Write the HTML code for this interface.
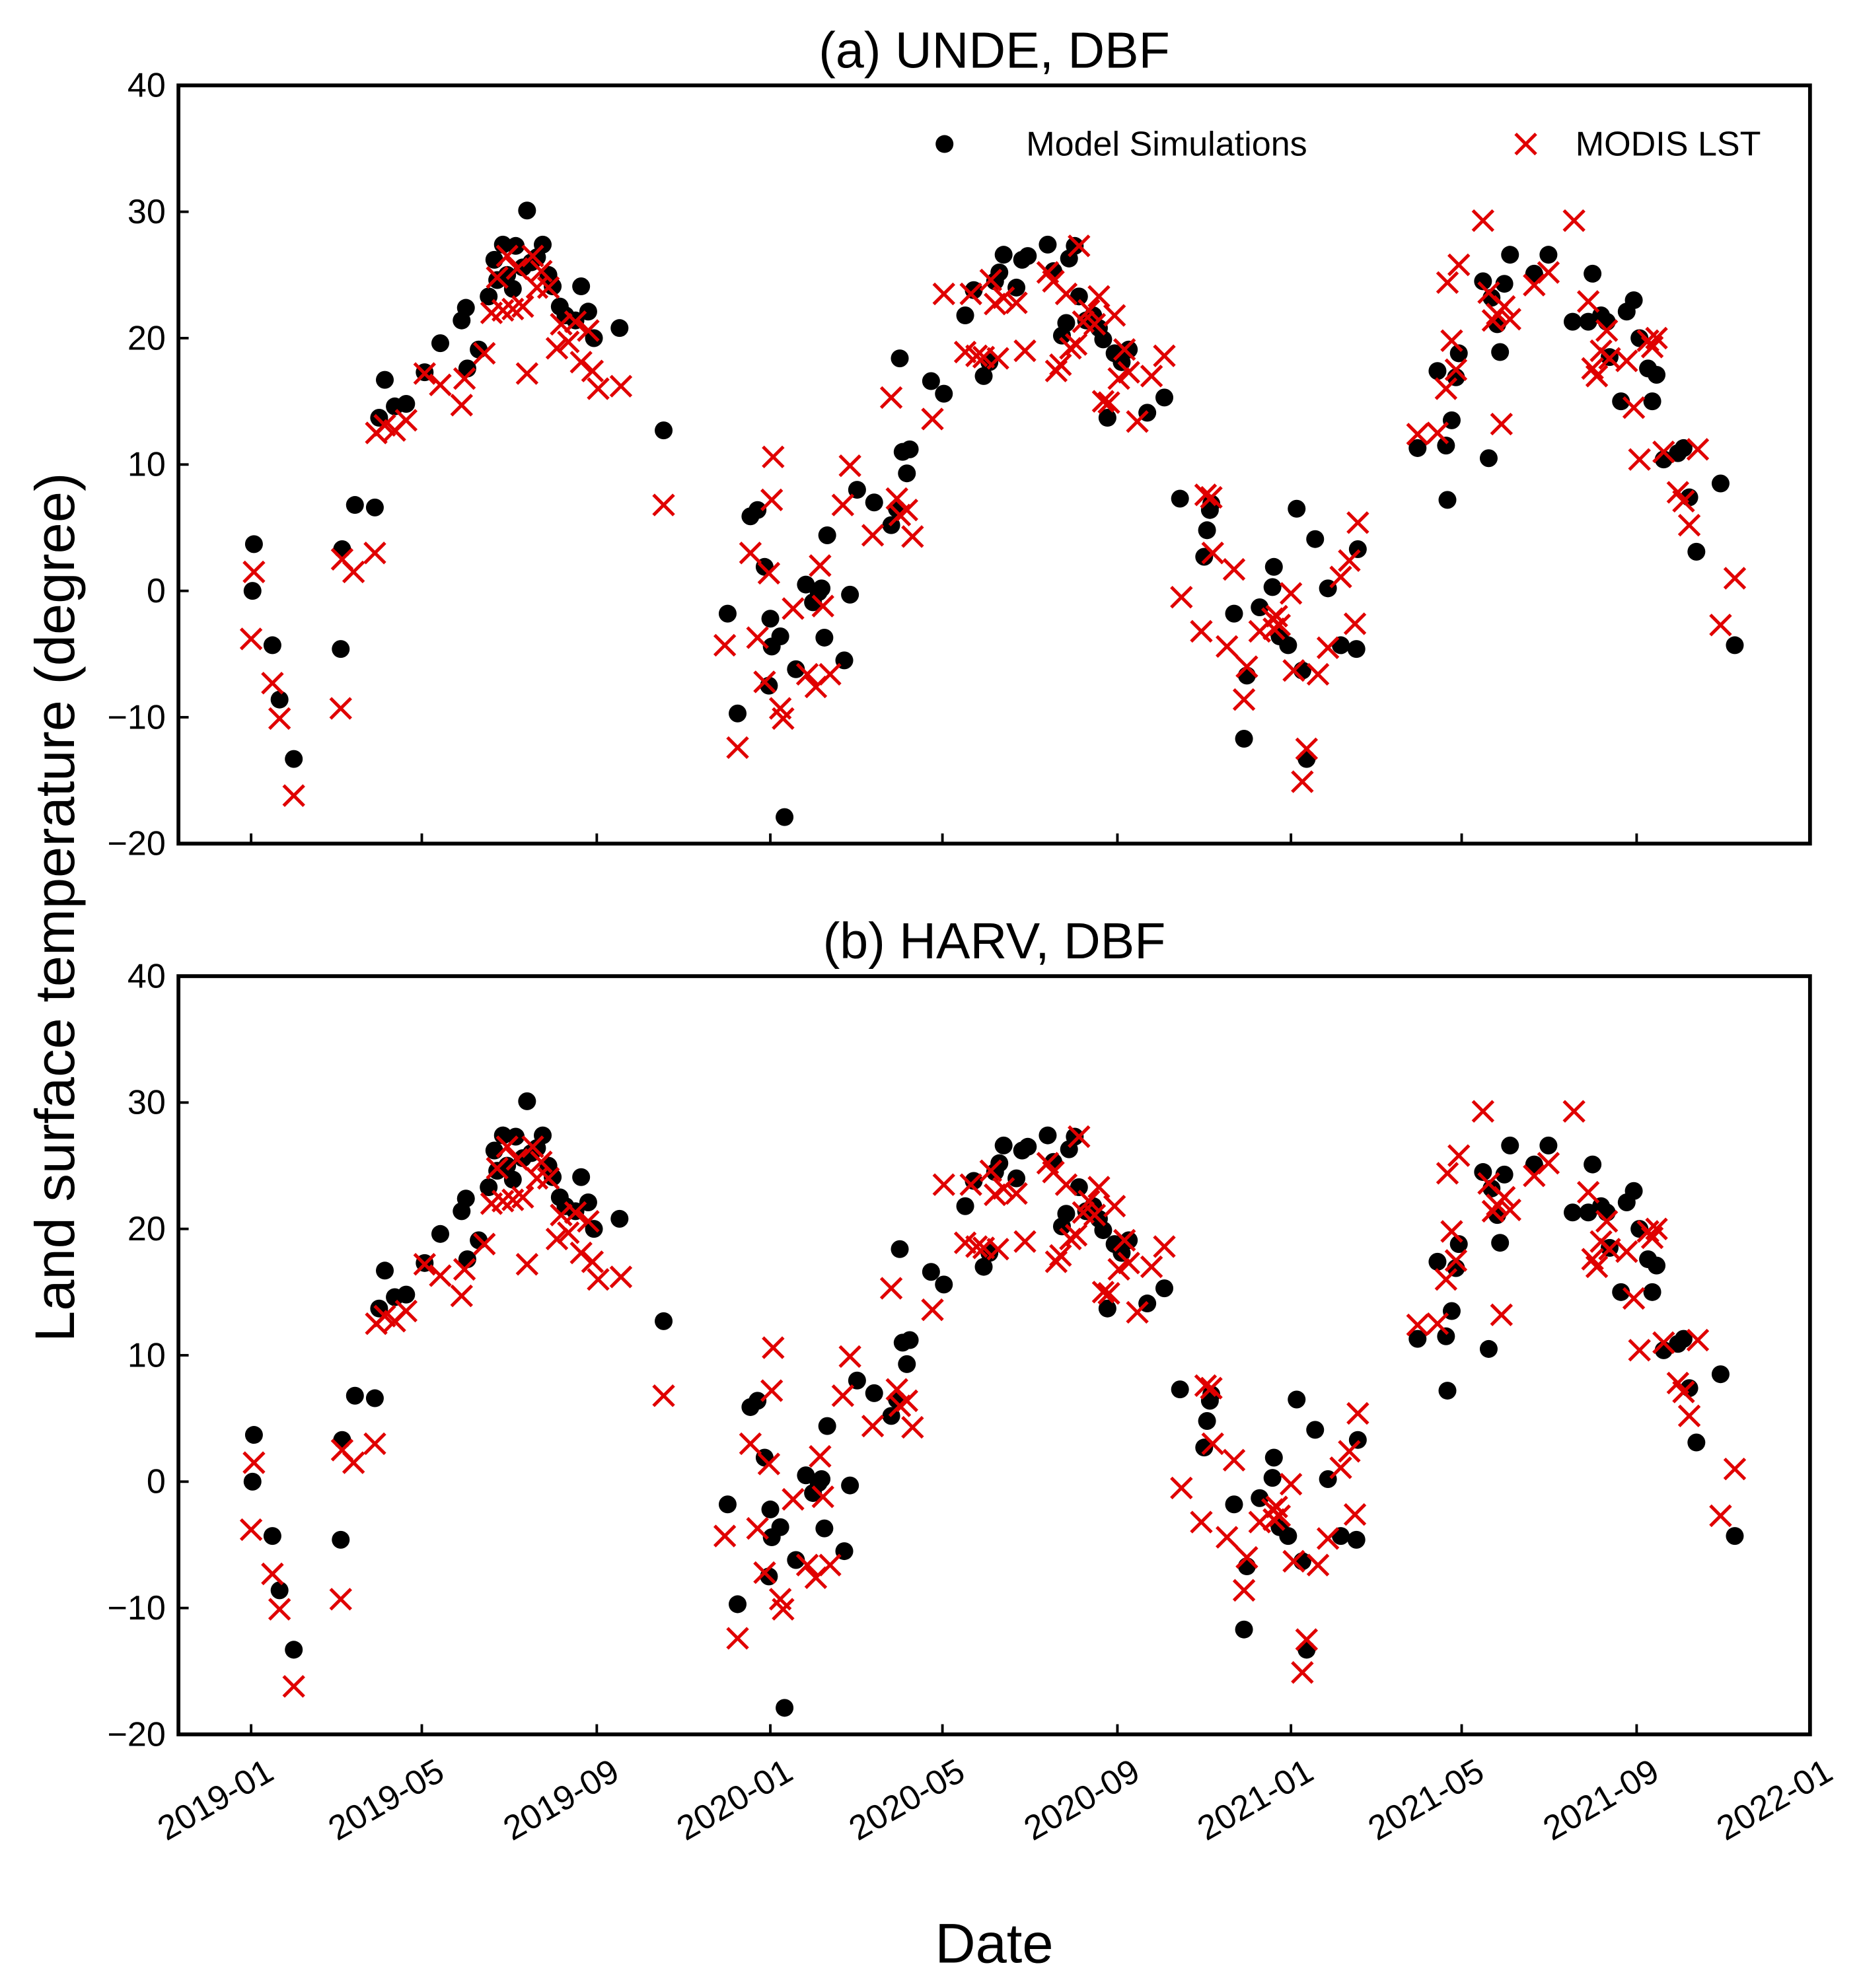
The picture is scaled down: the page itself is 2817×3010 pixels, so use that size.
<!DOCTYPE html>
<html><head><meta charset="utf-8"><title>LST chart</title>
<style>html,body{margin:0;padding:0;background:#fff;}svg{display:block;font-family:"Liberation Sans","DejaVu Sans",sans-serif;}</style>
</head><body>
<svg id="chart" width="2817" height="3010" viewBox="0 0 1460 1560" xmlns="http://www.w3.org/2000/svg">
<rect width="1460" height="1560" fill="#fff"/>
<g id="root"></g>
</svg>
<script>
// Days since 2019-01-01 and values (degree)
const modelDays = [1,2,15,20,30,63,64,73,87,90,94,101,109,122,133,148,151,152,160,167,171,173,177,180,184,186,191,194,197,201,205,209,212,217,221,228,232,237,241,259,290,
335,342,351,356,361,365,366,364,372,375,383,390,395,399,401,403,405,417,421,426,438,450,454,456,458,461,463,478,487,502,508,515,519,523,526,529,538,542,546,560,564,570,573,575,579,582,587,592,596,599,602,607,612,617,630,642,653,670,672,674,675,691,698,700,709,718,719,723,729,735,739,742,748,757,766,777,778,
820,834,840,841,844,847,849,866,870,872,876,878,881,885,902,912,929,940,943,949,953,955,963,967,972,976,982,985,988,993,1003,1007,1011,1016,1033,1043];
const modelValues = [0,3.7,-4.3,-8.6,-13.3,-4.6,3.3,6.8,6.6,13.7,16.7,14.6,14.8,17.3,19.6,21.4,22.4,17.6,19.1,23.3,26.2,24.6,27.4,25.0,23.9,27.3,25.6,30.1,26.0,26.4,27.4,25.0,24.1,22.5,21.8,21.4,24.1,22.1,20.0,20.8,12.7,
-1.8,-9.7,5.9,6.4,1.9,-2.2,-4.4,-7.5,-3.6,-17.9,-6.2,0.5,-0.9,-0.1,0.2,-3.7,4.4,-5.5,-0.3,8.0,7.0,5.2,6.5,18.4,11.0,9.3,11.2,16.6,15.6,21.8,23.8,17.0,18.1,24.5,25.2,26.6,24.0,26.2,26.5,27.4,25.3,20.2,21.2,26.3,27.3,23.3,21.4,21.8,20.8,19.9,13.7,18.8,18.1,19.1,14.1,15.3,7.3,2.7,4.8,6.4,6.9,-1.8,-11.7,-6.7,-1.3,0.3,1.9,-3.6,-4.3,6.5,-6.3,-13.3,4.1,0.2,-4.3,-4.6,3.3,
11.3,17.4,11.5,7.2,13.5,16.9,18.8,24.5,10.5,23.2,21.1,18.9,24.3,26.6,25.1,26.6,21.3,21.3,25.1,21.8,21.3,18.5,15.0,22.1,23.0,20.0,17.6,15.0,17.1,10.4,10.9,11.3,7.4,3.1,8.5,-4.3];
const modisDays = [0,2,15,20,30,63,64,72,87,88,94,101,109,122,133,148,150,164,169,173,177,180,184,187,191,194,198,201,204,209,215,218,223,228,232,237,240,244,260,290,
333,342,351,356,361,364,366,367,372,374,381,391,397,400,402,407,416,421,437,450,454,456,461,465,479,487,502,506,510,515,520,523,525,529,538,544,560,564,566,569,573,576,580,582,585,589,593,596,599,603,607,610,614,617,623,633,642,654,668,671,675,676,686,691,698,700,709,718,719,721,723,731,733,739,742,750,757,766,772,776,778,
820,834,840,841,844,847,849,866,870,873,876,879,881,885,902,912,930,940,943,946,949,953,955,967,972,976,982,985,988,993,1003,1007,1011,1017,1033,1043];
const modisValues = [-3.8,1.5,-7.3,-10.1,-16.2,-9.3,2.5,1.5,3.0,12.5,13.1,12.7,13.5,17.2,16.3,14.7,16.8,18.8,22.0,24.8,22.2,26.5,22.3,25.5,22.5,17.2,26.5,24.0,25.3,24.0,19.2,21.1,19.7,21.3,18.1,20.6,17.4,16.0,16.2,6.8,
-4.3,-12.4,3.0,-3.7,-7.2,1.4,7.2,10.6,-9.3,-10.1,-1.4,-6.6,-7.6,2.0,-1.2,-6.6,6.8,9.9,4.4,15.3,7.3,6.0,6.4,4.3,13.6,23.5,18.9,23.5,18.6,18.5,24.6,22.7,18.4,23.2,22.8,19.0,25.2,24.5,17.4,17.9,23.5,19.2,19.5,27.3,21.3,22.2,21.1,23.3,15.0,14.9,21.8,16.8,19.1,17.3,13.4,17.0,18.6,-0.5,-3.2,7.6,7.4,3.0,-4.4,1.7,-8.6,-6.0,-3.2,-2.2,-3.0,-2.0,-2.7,-0.2,-6.3,-15.1,-12.5,-6.6,-4.5,1.1,2.4,-2.6,5.4,
12.4,12.5,16.0,24.4,19.8,17.5,25.8,29.3,23.6,21.4,21.9,13.2,22.5,21.5,24.2,25.2,29.3,22.9,17.6,17.0,19.0,20.6,18.4,18.2,14.5,10.4,19.8,19.3,20.0,11.0,7.8,7.1,5.2,11.2,-2.7,1.0];
const yTicks = [-20,-10,0,10,20,30,40];
const xTickLabels = ["2019-01","2019-05","2019-09","2020-01","2020-05","2020-09","2021-01","2021-05","2021-09","2022-01"];
const panelTitles = ["(a) UNDE, DBF","(b) HARV, DBF"];

const NS="http://www.w3.org/2000/svg";
const root=document.getElementById('root');
function mk(tag,attrs,parent){const e=document.createElementNS(NS,tag);for(const k in attrs)e.setAttribute(k,attrs[k]);(parent||root).appendChild(e);return e;}
const X0=140,X1=1420;
const t0=Date.UTC(2019,0,1);
function xScale(d){return 197+d*1.116;}
function dayOf(lbl){const [y,m]=lbl.split('-').map(Number);return (Date.UTC(y,m-1,1)-t0)/86400000;}
const panels=[{top:67,bottom:662},{top:766,bottom:1361}];

panels.forEach((p,pi)=>{
  const yScale=v=>p.bottom-(v+20)/60*(p.bottom-p.top);
  const g=mk('g',{});
  
  
  const t=mk('text',{x:780,y:p.top-14,'text-anchor':'middle','font-size':40},g);
  t.textContent=panelTitles[pi];
  
  
  yTicks.forEach(v=>{
    const y=yScale(v);
    const l=mk('line',{x1:X0,x2:X0+8,y1:y,y2:y,stroke:'#000','stroke-width':2},g);
    
    
    const tl=mk('text',{x:X0-10,y:y+9,'text-anchor':'end','font-size':27},g);
    tl.textContent=v<0?'\u2212'+Math.abs(v):String(v);
    
    
  });
  xTickLabels.forEach(lb=>{
    const x=xScale(dayOf(lb));
    const l=mk('line',{x1:x,x2:x,y1:p.bottom,y2:p.bottom-8,stroke:'#000','stroke-width':2},g);
    
    
    if(pi===1){
      const tl=mk('text',{x:x+10,y:p.bottom+18,'text-anchor':'end','font-size':27,transform:`rotate(-30 ${x+10} ${p.bottom+18})`},g);
      tl.setAttribute('dy','0.7em');
      tl.textContent=lb;
      
      
    }
  });
  modelDays.forEach((d,i)=>{
    const c=mk('circle',{cx:xScale(d),cy:yScale(modelValues[i]),r:7,fill:'#000'},g);
    
    
  });
  modisDays.forEach((d,i)=>{
    const x=xScale(d),y=yScale(modisValues[i]),s=8;
    const m=mk('path',{d:`M${x-s} ${y-s}L${x+s} ${y+s}M${x-s} ${y+s}L${x+s} ${y-s}`,stroke:'#e00000','stroke-width':2.6,fill:'none'},g);
    
    
  });
  const fr=mk('rect',{x:X0,y:p.top,width:X1-X0,height:p.bottom-p.top,fill:'none',stroke:'#000','stroke-width':3},g);
  
  
  if(pi===0){
    const lg=mk('g',{},g);
    
    
    const ld=mk('circle',{cx:741,cy:113,r:7,fill:'#000'},lg);
    
    
    const lt=mk('text',{x:805,y:122,'font-size':27},lg);
    lt.textContent='Model Simulations';
    
    
    const lx=mk('path',{d:'M1189 105L1205 121M1189 121L1205 105',stroke:'#e00000','stroke-width':2.6},lg);
    
    
    const lt2=mk('text',{x:1236,y:122,'font-size':27},lg);
    lt2.textContent='MODIS LST';
    
    
  }
});
const yl=mk('text',{x:0,y:0,'text-anchor':'middle','font-size':44,transform:'translate(58 712) rotate(-90)'});
yl.textContent='Land surface temperature (degree)';


const xl=mk('text',{x:780,y:1540,'text-anchor':'middle','font-size':44});
xl.textContent='Date';


</script>
</body></html>
